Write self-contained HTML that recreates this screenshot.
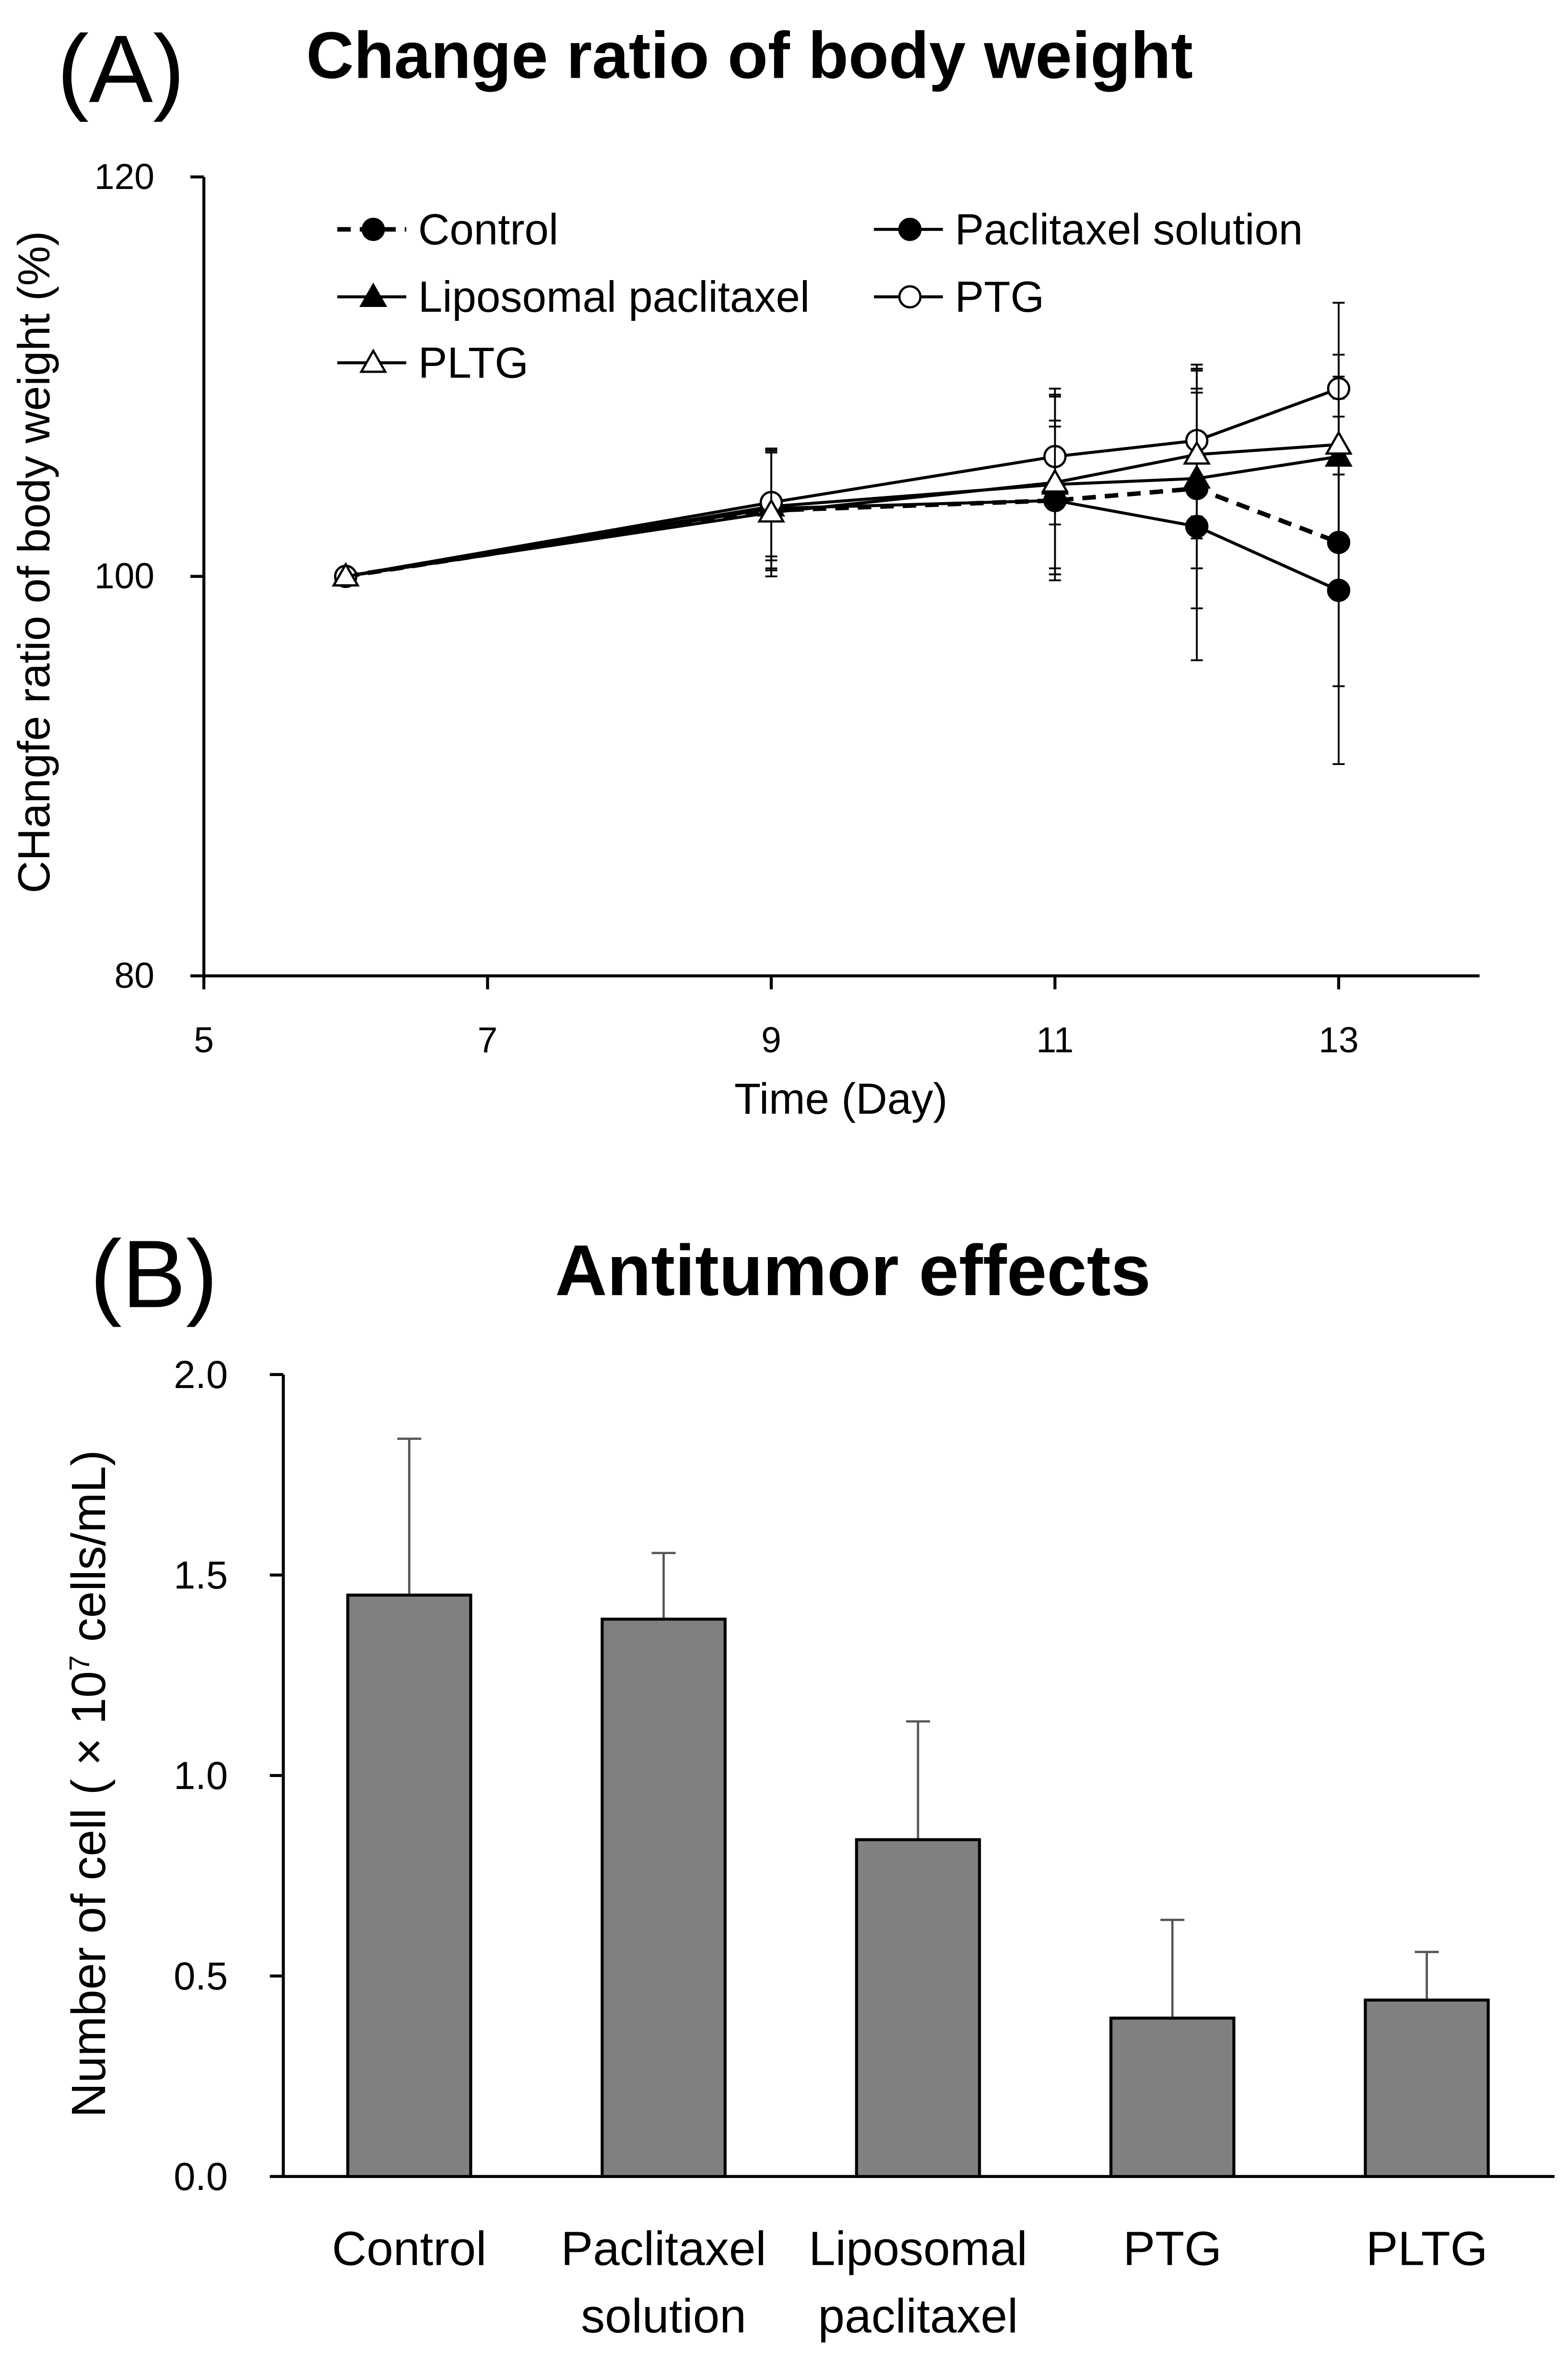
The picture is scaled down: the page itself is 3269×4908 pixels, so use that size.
<!DOCTYPE html>
<html><head><meta charset="utf-8"><style>
html,body{margin:0;padding:0;background:#fff}
svg{display:block}
text{font-family:"Liberation Sans",sans-serif;fill:#000}
</style></head><body>
<svg id="fig" width="3269" height="4908" viewBox="0 0 1046 1570.4" xmlns="http://www.w3.org/2000/svg">
<rect width="1046" height="1570.4" fill="#fff"/>
<text x="38" y="68" font-size="64">(A)</text>
<text x="500" y="52" font-size="44" font-weight="bold" text-anchor="middle">Change ratio of body weight</text>
<g id="chartA"></g>
<text x="60" y="872" font-size="64">(B)</text>
<text x="569" y="864" font-size="48" font-weight="bold" text-anchor="middle">Antitumor effects</text>
<g id="chartB"></g>
</svg>
<script>
const days=[6,9,11,12,13];
const controlVals=[100,103.3,103.8,104.4,101.7];
const controlErr=[0,3,4,6,7.2];
const paclVals=[100,103.4,103.8,102.5,99.3];
const paclErr=[0,3,3.7,6.7,8.7];
const lipoVals=[100,103.5,104.6,104.9,106.0];
const lipoErr=[0,2.7,4.5,4.5,4];
const ptgVals=[100,103.7,106.0,106.8,109.4];
const ptgErr=[0,2.7,3.4,3.8,4.3];
const pltgVals=[100,103.2,104.7,106.1,106.6];
const pltgErr=[0,3.2,4.3,4.2,4.5];
const xTicksA=[5,7,9,11,13];
const yTicksA=[80,100,120];
const cats=["Control","Paclitaxel|solution","Liposomal|paclitaxel","PTG","PLTG"];
const barVals=[1.45,1.39,0.84,0.395,0.44];
const barErr=[0.39,0.165,0.295,0.245,0.12];
const yTicksB=["0.0","0.5","1.0","1.5","2.0"];

const NS="http://www.w3.org/2000/svg";
function mk(p,t,a){const e=document.createElementNS(NS,t);for(const k in a)e.setAttribute(k,a[k]);p.appendChild(e);return e;}
const A=document.getElementById('chartA');
const xA=d=>136+(d-5)*(893-136)/8;
const yA=v=>651-(v-80)*(651-118)/40;
let e;
e=mk(A,'line',{x1:136,y1:118,x2:136,y2:651,stroke:'#000','stroke-width':2});


e=mk(A,'line',{x1:136,y1:651,x2:987,y2:651,stroke:'#000','stroke-width':2});


yTicksA.forEach(v=>{mk(A,'line',{x1:127,x2:136,y1:yA(v),y2:yA(v),stroke:'#000','stroke-width':2});
 e=mk(A,'text',{x:103,y:yA(v)+8,'font-size':24,'text-anchor':'end'});e.textContent=v;
 
 });
xTicksA.forEach(v=>{mk(A,'line',{x1:xA(v),x2:xA(v),y1:651,y2:660,stroke:'#000','stroke-width':2});
 e=mk(A,'text',{x:xA(v),y:702,'font-size':24,'text-anchor':'middle'});e.textContent=v;
 
 });
e=mk(A,'text',{x:561,y:743,'font-size':29,'text-anchor':'middle'});e.textContent='Time (Day)';


e=mk(A,'text',{x:0,y:0,'font-size':30,'text-anchor':'middle',transform:'translate(33,375) rotate(-90)'});e.textContent='CHangfe ratio of body weight (%)';


const series=[
 {name:'Control',v:controlVals,er:controlErr,m:'circle',fill:'#000',dash:'9,6'},
 {name:'Paclitaxel solution',v:paclVals,er:paclErr,m:'circle',fill:'#000',dash:''},
 {name:'Liposomal paclitaxel',v:lipoVals,er:lipoErr,m:'tri',fill:'#000',dash:''},
 {name:'PTG',v:ptgVals,er:ptgErr,m:'circle',fill:'#fff',dash:''},
 {name:'PLTG',v:pltgVals,er:pltgErr,m:'tri',fill:'#fff',dash:''}];
function marker(g,m,x,y,fill){
 if(m==='circle')return mk(g,'circle',{cx:x,cy:y,r:7,fill:fill,stroke:'#000','stroke-width':1.5});
 return mk(g,'polygon',{points:`${x},${y-8} ${x+8},${y+6} ${x-8},${y+6}`,fill:fill,stroke:'#000','stroke-width':1.5});
}
series.forEach(s=>{
 const g=mk(A,'g',{});
 
 
 days.forEach((d,i)=>{if(s.er[i]>0){const x=xA(d);
  mk(g,'line',{x1:x,x2:x,y1:yA(s.v[i]-s.er[i]),y2:yA(s.v[i]+s.er[i]),stroke:'#000','stroke-width':1.2});
  [s.v[i]-s.er[i],s.v[i]+s.er[i]].forEach(v=>mk(g,'line',{x1:x-4,x2:x+4,y1:yA(v),y2:yA(v),stroke:'#000','stroke-width':1.2}));}});
 const pts=days.map((d,i)=>xA(d)+','+yA(s.v[i])).join(' ');
 const l=mk(g,'polyline',{points:pts,fill:'none',stroke:'#000','stroke-width':s.dash?3:2,'stroke-dasharray':s.dash});
 
 
 days.forEach((d,i)=>{const p=marker(g,s.m,xA(d),yA(s.v[i]),s.fill);
  
  });
});
const legPos=[[225,153],[583,153],[225,198],[583,198],[225,242]];
series.forEach((s,i)=>{const [x,y]=legPos[i];
 const g=mk(A,'g',{});
 
 
 mk(g,'line',{x1:x,x2:x+46,y1:y,y2:y,stroke:'#000','stroke-width':s.dash?3:2,'stroke-dasharray':s.dash});
 marker(g,s.m,x+24,y,s.fill);
 const t=mk(g,'text',{x:x+54,y:y+10,'font-size':29});t.textContent=s.name;});
const B=document.getElementById('chartB');
const yB=v=>1452-v*(1452-917)/2;
const xB=i=>273+i*169.7;
e=mk(B,'line',{x1:189,y1:917,x2:189,y2:1452,stroke:'#000','stroke-width':2});


e=mk(B,'line',{x1:189,y1:1452,x2:1037,y2:1452,stroke:'#000','stroke-width':2});


yTicksB.forEach(t=>{const v=parseFloat(t);mk(B,'line',{x1:180,x2:189,y1:yB(v),y2:yB(v),stroke:'#000','stroke-width':2});
 e=mk(B,'text',{x:152,y:yB(v)+9,'font-size':26,'text-anchor':'end'});e.textContent=t;
 
 });
e=mk(B,'text',{x:0,y:0,'font-size':32,'text-anchor':'middle',transform:'translate(70,1190) rotate(-90)'});
e.innerHTML='Number of cell ( × 10<tspan baseline-shift="super" font-size="19">7</tspan> cells/mL)';


cats.forEach((c,i)=>{const x=xB(i);
 const top=yB(barVals[i]+barErr[i]);
 e=mk(B,'line',{x1:x,x2:x,y1:top,y2:yB(barVals[i]),stroke:'#555','stroke-width':1.5});
 
 
 mk(B,'line',{x1:x-8,x2:x+8,y1:top,y2:top,stroke:'#555','stroke-width':1.5});
 e=mk(B,'rect',{x:x-41,y:yB(barVals[i]),width:82,height:1452-yB(barVals[i]),fill:'#808080',stroke:'#000','stroke-width':2});
 
 
 c.split('|').forEach((ln,j)=>{const t=mk(B,'text',{x:x,y:1511+j*45,'font-size':32,'text-anchor':'middle'});t.textContent=ln;
  
  });
});
</script>
</body></html>
